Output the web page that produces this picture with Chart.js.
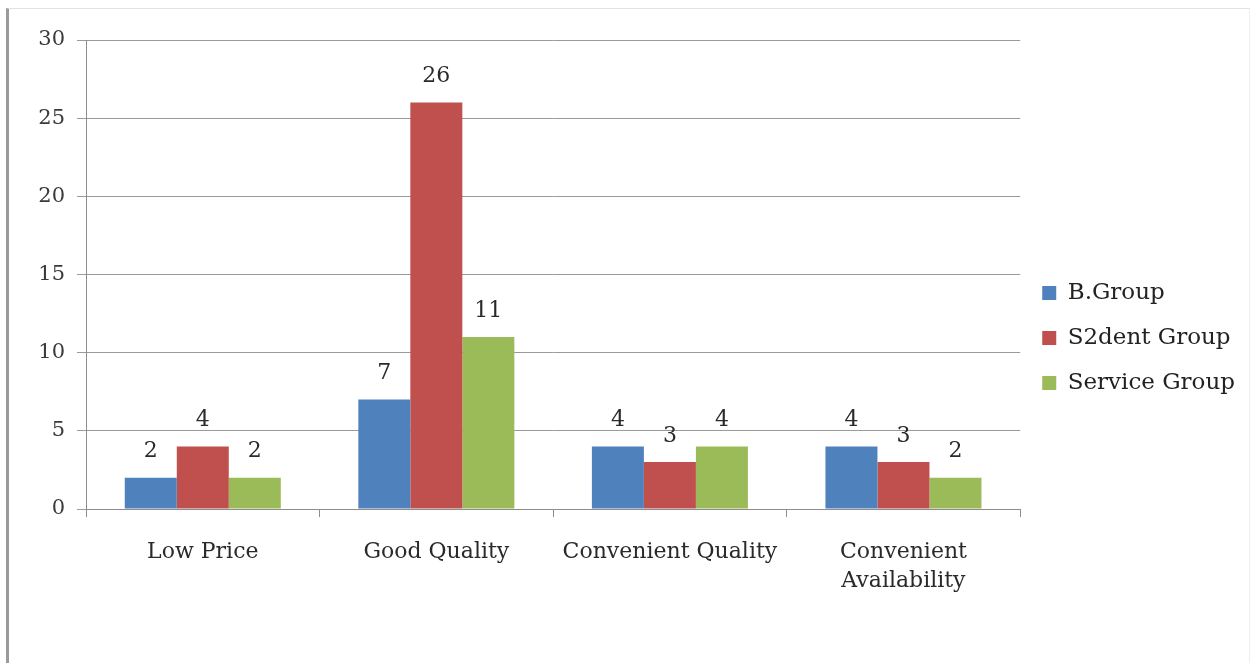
<!DOCTYPE html>
<html>
<head>
<meta charset="utf-8">
<script src="https://cdn.jsdelivr.net/npm/chart.js@4/dist/chart.umd.min.js"></script>
<style>
  html, body { margin: 0; padding: 0; background: #fff; }
  #wrap {
    position: absolute; left: 6px; top: 8px; width: 1240px; height: 655px;
    border-left: 3px solid #9a9a9a; border-top: 1px solid #e2e2e2; border-right: 1px solid #eeeeee;
  }
  #box { position: absolute; left: 0; top: 0; width: 1254px; height: 663px; }
</style>
</head>
<body>
<div id="wrap"></div>
<div id="box"><canvas id="c" width="1254" height="663"></canvas></div>
<script>
const categories = ['Low Price', 'Good Quality', 'Convenient Quality', ['Convenient', 'Availability']];
const bGroup = [2, 7, 4, 4];
const studentGroup = [4, 26, 3, 3];
const serviceGroup = [2, 11, 4, 2];
const seriesNames = ['B.Group', 'S2dent Group', 'Service Group'];
const yTicks = [0, 5, 10, 15, 20, 25, 30];

const FONT = 'DejaVu Serif';

// Writes each bar's value just above it
const valueLabels = {
  id: 'valueLabels',
  afterDatasetsDraw(chart) {
    const ctx = chart.ctx;
    ctx.save();
    ctx.font = '22px "' + FONT + '"';
    ctx.fillStyle = '#2a2a2a';
    ctx.textAlign = 'center';
    ctx.textBaseline = 'middle';
    chart.data.datasets.forEach((ds, i) => {
      chart.getDatasetMeta(i).data.forEach((bar, j) => {
        ctx.fillText(String(ds.data[j]), bar.x, bar.y - 26);
      });
    });
    ctx.restore();
  }
};

new Chart(document.getElementById('c'), {
  type: 'bar',
  data: {
    labels: categories,
    datasets: [
      { label: seriesNames[0], data: bGroup, backgroundColor: '#4F81BD' },
      { label: seriesNames[1], data: studentGroup, backgroundColor: '#C0504D' },
      { label: seriesNames[2], data: serviceGroup, backgroundColor: '#9BBB59' }
    ]
  },
  options: {
    responsive: false,
    animation: false,
    layout: { padding: { left: 0, top: 40, right: 9, bottom: 27 } },
    datasets: { bar: { categoryPercentage: 0.668, barPercentage: 1.0 } },
    scales: {
      x: {
        offset: true,
        afterFit(scale) { scale.height = 127; },
        grid: { offset: true, drawOnChartArea: false, drawTicks: true, tickLength: 8, color: '#8c8c8c' },
        border: { color: '#8c8c8c', width: 1 },
        ticks: { font: { family: FONT, size: 22, lineHeight: 1.35 }, color: '#2a2a2a', padding: 20, maxRotation: 0 }
      },
      y: {
        min: 0, max: 30,
        afterFit(scale) { scale.width = 86; },
        afterBuildTicks(scale) { scale.ticks = yTicks.map(v => ({ value: v })); },
        grid: { color: '#9a9a9a', drawTicks: true, tickLength: 9 },
        border: { color: '#8c8c8c', width: 1 },
        ticks: { font: { family: FONT, size: 21 }, color: '#3a3a3a', padding: 12 }
      }
    },
    plugins: {
      legend: {
        position: 'right',
        align: 'center',
        labels: {
          font: { family: FONT, size: 23 },
          color: '#222',
          boxWidth: 14, boxHeight: 14,
          padding: 22
        }
      },
      tooltip: { enabled: false }
    }
  },
  plugins: [valueLabels]
});
</script>
</body>
</html>
